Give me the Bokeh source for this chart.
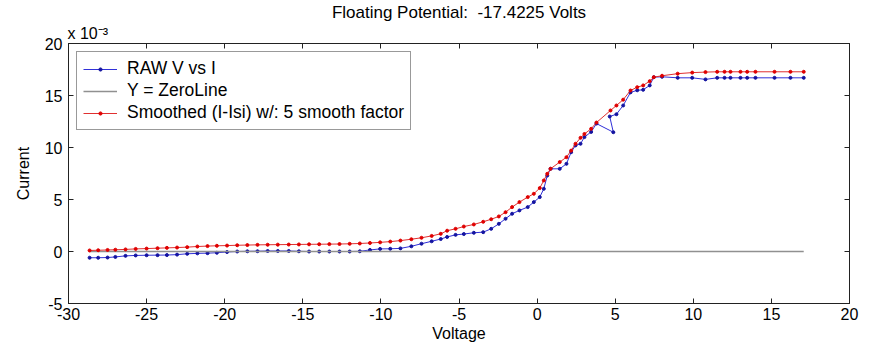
from bokeh.plotting import figure
from bokeh.models import (Range1d, LinearAxis, Legend, LegendItem, Title, FixedTicker,
                          PrintfTickFormatter)
from bokeh.embed import file_html
from bokeh.resources import INLINE

# ---- data (current in units of 1e-3 A) ----
smooth_v = [-28.65, -28.1, -27.5, -27.0, -26.35, -25.7, -25.0, -24.3, -23.7, -23.05,
            -22.4, -21.75, -21.1, -20.5, -19.85, -19.2, -18.55, -17.9, -17.25, -16.6,
            -15.9, -15.25, -14.6, -13.95, -13.3, -12.65, -12.0, -11.35, -10.7, -10.05,
            -9.4, -8.75, -8.05, -7.4, -6.75,
            -6.17, -5.76, -5.22, -4.69, -4.05, -3.45, -2.94, -2.45, -2.02, -1.6,
            -1.13, -0.6, -0.21, 0.17, 0.43, 0.65, 0.86, 1.45, 1.88, 2.18,
            2.46, 2.78, 3.03, 3.46, 3.8, 4.7, 5.08, 5.51, 5.98, 6.41,
            6.79, 7.21, 7.47, 8.0, 9.0, 9.93, 10.78, 11.53, 12.0, 12.38,
            13.02, 13.45, 13.98, 15.2, 16.22, 17.07]
smooth_i = [0.10, 0.12, 0.15, 0.17, 0.20, 0.25, 0.28, 0.32, 0.35, 0.38,
            0.42, 0.48, 0.52, 0.55, 0.57, 0.60, 0.62, 0.64, 0.65, 0.66,
            0.67, 0.68, 0.69, 0.70, 0.71, 0.72, 0.74, 0.77, 0.82, 0.88,
            0.95, 1.05, 1.18, 1.32, 1.50,
            1.70, 2.00, 2.18, 2.40, 2.60, 2.86, 3.10, 3.37, 3.78, 4.27,
            4.75, 5.23, 5.55, 6.10, 6.83, 7.47, 7.95, 8.60, 9.07, 9.70,
            10.36, 10.93, 11.30, 11.80, 12.40, 13.56, 14.04, 14.60, 15.48, 15.80,
            15.97, 16.38, 16.76, 16.90, 17.10, 17.20, 17.25, 17.28, 17.28, 17.28,
            17.28, 17.28, 17.28, 17.28, 17.28, 17.28]

raw_v = [-28.65, -28.1, -27.5, -27.0, -26.35, -25.7, -25.0, -24.3, -23.7, -23.05,
         -22.4, -21.75, -21.1, -20.5, -19.85, -19.2, -18.55, -17.9, -17.25, -16.6,
         -15.9, -15.25, -14.6, -13.95, -13.3, -12.65, -12.0, -11.35, -10.7, -10.05,
         -9.4, -8.75, -8.05, -7.4, -6.75,
         -6.17, -5.76, -5.22, -4.69, -4.05, -3.45, -2.94, -2.45, -2.02, -1.6,
         -1.13, -0.6, -0.21, 0.17, 0.43, 0.65, 0.86, 1.45, 1.88, 2.18,
         2.46, 2.78, 3.03, 3.46, 3.8, 4.88, 4.65, 5.08, 5.51, 5.98, 6.41,
         6.79, 7.21, 7.47, 8.0, 9.0, 9.93, 10.78, 11.53, 12.0, 12.38,
         13.02, 13.45, 13.98, 15.2, 16.22, 17.07]
raw_i = [-0.60, -0.60, -0.58, -0.52, -0.42, -0.38, -0.36, -0.35, -0.34, -0.30,
         -0.22, -0.18, -0.16, -0.12, -0.05, 0.00, 0.02, 0.03, 0.05, 0.05,
         0.05, 0.02, 0.00, 0.00, 0.00, 0.00, 0.00, 0.02, 0.15, 0.25,
         0.26, 0.30, 0.50, 0.75, 0.98,
         1.20, 1.40, 1.60, 1.68, 1.80, 1.86, 2.18, 2.66, 3.15, 3.63,
         3.95, 4.27, 4.75, 5.23, 6.03, 7.30, 7.95, 7.95, 8.43, 9.55,
         10.20, 10.36, 11.00, 11.50, 12.30, 11.47, 12.98, 13.20, 14.04, 15.30, 15.50,
         15.55, 15.97, 16.76, 16.80, 16.70, 16.70, 16.55, 16.70, 16.70, 16.70,
         16.70, 16.70, 16.70, 16.70, 16.70, 16.70]

zero_v = [raw_v[0], raw_v[-1]]
zero_i = [0, 0]

x_ticks = [-30, -25, -20, -15, -10, -5, 0, 5, 10, 15, 20]
y_ticks = [-5, 0, 5, 10, 15, 20]

title_text = "Floating Potential: \u00a0-17.4225 Volts"
exponent_text = "x 10\u207b\u00b3"
FONT = "Liberation Sans"

p = figure(width=872, height=352, output_backend="svg", toolbar_location=None,
           x_range=Range1d(-30, 20), y_range=Range1d(-5, 20),
           min_border_left=68, min_border_right=23, min_border_top=43, min_border_bottom=49,
           background_fill_color="white", border_fill_color="white")
p.xgrid.visible = False
p.ygrid.visible = False
p.outline_line_color = "#222222"
p.outline_line_width = 1

def style_axis(ax, ticks, show_labels):
    ax.ticker = FixedTicker(ticks=ticks)
    ax.formatter = PrintfTickFormatter(format="%d")
    ax.major_tick_in = 5
    ax.major_tick_out = 0
    ax.minor_tick_line_color = None
    ax.axis_line_color = "#222222"
    ax.major_tick_line_color = "#222222"
    ax.major_label_text_font = FONT
    ax.major_label_text_color = "black"
    ax.major_label_text_font_size = "16px"
    ax.axis_label_text_font = FONT
    ax.axis_label_text_font_style = "normal"
    ax.axis_label_text_font_size = "16px"
    ax.axis_label_text_color = "black"
    if not show_labels:
        ax.major_label_overrides = {t: "" for t in ticks}
        ax.major_label_standoff = 0

style_axis(p.xaxis[0], x_ticks, True)
style_axis(p.yaxis[0], y_ticks, True)
p.xaxis[0].axis_label = "Voltage"
p.yaxis[0].axis_label = "Current"
p.xaxis[0].major_label_standoff = 4
p.xaxis[0].axis_label_standoff = 2
p.yaxis[0].major_label_standoff = 6
p.yaxis[0].axis_label_standoff = 10

top_ax = LinearAxis()
style_axis(top_ax, x_ticks, False)
right_ax = LinearAxis()
style_axis(right_ax, y_ticks, False)
p.add_layout(right_ax, "right")

exp_title = Title(text=exponent_text, align="left", text_font=FONT, text_font_size="16px",
                  text_font_style="normal", text_color="black", standoff=3, offset=-1)
main_title = Title(text=title_text, align="center", text_font=FONT, text_font_size="17px",
                   text_font_style="normal", text_color="black", standoff=0, offset=6)
p.add_layout(top_ax, "above")
p.add_layout(exp_title, "above")
p.add_layout(main_title, "above")

# glyphs
raw_line = p.line(raw_v, raw_i, line_color="#3030d8", line_width=1)
raw_pts = p.scatter(raw_v, raw_i, marker="circle", size=3, fill_color="#1414a0",
                    line_color="#1414a0")
zero_line = p.line(zero_v, zero_i, line_color="#909090", line_width=1.3)
sm_line = p.line(smooth_v, smooth_i, line_color="#e03030", line_width=1)
sm_pts = p.scatter(smooth_v, smooth_i, marker="circle", size=3, fill_color="#e00000",
                   line_color="#e00000")

legend = Legend(items=[
    LegendItem(label="RAW V vs I", renderers=[raw_line, raw_pts]),
    LegendItem(label="Y = ZeroLine", renderers=[zero_line]),
    LegendItem(label="Smoothed (I-Isi) w/: 5 smooth factor", renderers=[sm_line, sm_pts]),
], location="top_left")
legend.margin = 8
legend.padding = 6
legend.spacing = 1
legend.glyph_width = 34
legend.glyph_height = 8
legend.label_height = 19
legend.label_standoff = 10
legend.label_text_font = FONT
legend.label_text_font_size = "17.5px"
legend.label_text_color = "black"
legend.border_line_color = "#333333"
legend.border_line_width = 1
legend.background_fill_alpha = 1
p.add_layout(legend)

open("out.html", "w").write(file_html(p, INLINE))
